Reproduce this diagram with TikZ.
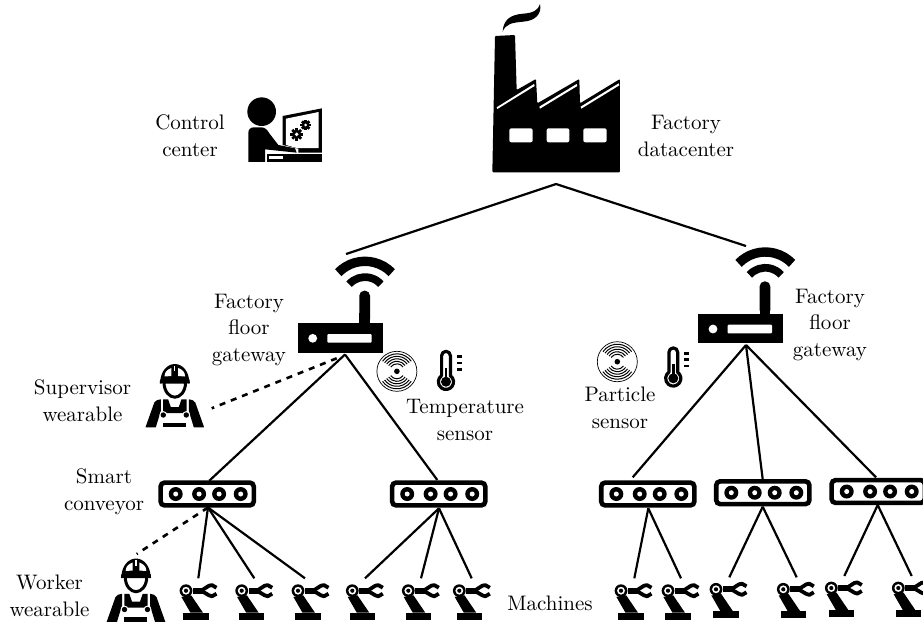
\documentclass[tikz,border=0pt]{standalone}
\usepackage{fontspec}
\setmainfont{lmroman10-regular.otf}
\tikzset{
  x=1pt,y=-1pt,
  lbl/.style={align=center,inner sep=0pt,font=\fontsize{21}{26.6}\selectfont},
  link/.style={line width=2.2pt,black,line cap=butt},
  wire/.style={line width=2.6pt,black,dash pattern=on 6pt off 6pt},
  robot/.pic={
    \fill (0,0) circle (6.4);
    \fill[white] (0,0) circle (3.9);
    \fill (0,0) circle (2.1);
    \fill (7,-3.2) rectangle (17.5,3);
    \fill (-4.6,6.2) -- (5.2,4.6) -- (17,22) -- (4.5,22) -- cycle;
    \fill (-2.6,22) rectangle (22.6,28.8);
    \draw[line width=3.8pt,line join=round] (16,-.5) -- (23,-5) -- (26,-5.6) -- (30.5,-3);
    \draw[line width=3.8pt,line join=round] (16,.5) -- (23,4.6) -- (26,5.6) -- (30.5,3);
  },
  conveyor/.pic={
    \draw[line width=4.6pt,rounded corners=4pt] (-46.6,-11.4) rectangle (46.6,11.4);
    \foreach \u in {-31.5,-8.1,11.9,33.5}{
      \fill (\u,0) circle (7);
      \fill[white] (\u,0) circle (2.5);
    }
  },
  gatewaybox/.pic={
    \fill (0,0) rectangle (84.7,29.4);
    \fill[white] (14.7,15) circle (4.4);
    \fill[white,rounded corners=1pt] (29.3,10.7) rectangle (73.7,19.4);
    \fill[rounded corners=5pt] (61.3,1) -- (61.3,-32.6) -- (72,-32.6) -- (72,1) -- cycle;
    \fill (61.3,-10) rectangle (72,1);
    \draw[line width=9.4pt] (67,-24.8) ++(-136:37.2) arc[start angle=-136,end angle=-44,radius=37.2];
    \draw[line width=7.7pt] (67,-24.8) ++(-138:21.4) arc[start angle=-138,end angle=-42,radius=21.4];
  },
  disc/.pic={
    \draw[line width=.7pt] (0,0) circle (20);
    \fill (0,0) circle (2.8);
    \foreach \r in {7.5,10,12.5,15,17.5}{
      \draw[line width=1pt] (0,0) ++(35:\r) arc[start angle=35,end angle=145,radius=\r];
      \draw[line width=1pt] (0,0) ++(215:\r) arc[start angle=215,end angle=325,radius=\r];
    }
  },
  thermo/.pic={
    \draw[line width=3.2pt,fill=white,line join=round]
      (-4.4,-6) -- (-4.4,-26) arc[start angle=180,end angle=360,radius=4.4] -- (4.4,-6)
      arc[start angle=-54,end angle=234,radius=7.6] -- cycle;
    \fill (0,0) circle (5);
    \fill (-1.4,-14) rectangle (1.4,-2);
    \foreach \v in {-25,-18.6,-12.2}{\fill (11,\v-1.3) rectangle (16,\v+1.3);}
  },
  worker/.pic={
    \fill (-14.4,17.7) arc[start angle=180,end angle=360,x radius=14.4,y radius=17.7]
      -- cycle;
    \fill[white] (-10.3,12.5) .. controls (-10.3,8) and (-7.5,5.5) .. (-3.4,4) -- (-3.4,12) -- cycle;
    \fill[white] (10.3,12.5) .. controls (10.3,8) and (7.5,5.5) .. (3.4,4) -- (3.4,12) -- cycle;
    \fill[white] (-.6,1.5) rectangle (.6,7);
    \draw[line width=3pt,fill=white] (-10.8,18) .. controls (-10.8,28) and (-5,33.2) .. (0,33.2)
      .. controls (5,33.2) and (10.8,28) .. (10.8,18) -- cycle;
    \fill[rounded corners=1pt] (-15.2,20) -- (-14.6,15) .. controls (-6,12.5) and (6,12.5) .. (14.6,15) -- (15.2,20)
      .. controls (6,17.5) and (-6,17.5) .. cycle;
    \fill (-29.3,63.3) -- (-20.5,38.5) .. controls (-19.5,36.5) and (-16.5,35.3) .. (-14,35.3)
      -- (-14,47) -- (-19,63.3) -- cycle;
    \fill (29.3,63.3) -- (20.5,38.5) .. controls (19.5,36.5) and (16.5,35.3) .. (14,35.3)
      -- (14,47) -- (19,63.3) -- cycle;
    \fill (-11.7,35.3) -- (-6.7,35.3) -- (-4,43) -- (4,43) -- (6.7,35.3) -- (11.7,35.3)
      -- (11.7,49) -- (-11.7,49) -- cycle;
    \foreach \s in {-1,1}{
      \fill[white] (\s*11.5,51) circle (3.9);
      \fill (\s*11.5,51) circle (2.7);
    }
    \fill (-11.7,58.7) rectangle (11.3,63.3);
  },
  gearicon/.pic={
    \foreach \a in {0,45,...,315}{
      \fill[rotate=\a] (-1.4,-\gearr-1.6) rectangle (1.4,0);
    }
    \fill (0,0) circle (\gearr);
    \fill[white] (0,0) circle (\gearr*.42);
  },
}
\begin{document}
\begin{tikzpicture}
\useasboundingbox (0,0) rectangle (923,625);
\fill[white] (0,0) rectangle (923,625);

% factory
\begin{scope}[shift={(460,0)},x=.3333pt,y=-.3333pt]
  \fill[rounded corners=1pt] (105,108) -- (165,105) -- (170,270) -- (228,237) -- (232,310) -- (358,237)
     -- (360,310) -- (480,237) -- (480,517) -- (97,517) -- cycle;
  \fill[white] (110,322) -- (222,252) -- (224,258) -- (112,327) -- cycle;
  \fill[white] (238,320) -- (350,252) -- (352,258) -- (240,326) -- cycle;
  \fill[white] (362,320) -- (476,250) -- (478,256) -- (364,326) -- cycle;
  \fill[white,rounded corners=2pt] (148,385) rectangle (218,427);
  \fill[white,rounded corners=2pt] (260,385) rectangle (328,427);
  \fill[white,rounded corners=2pt] (370,385) rectangle (440,427);
  \fill (128,95) .. controls (130,60) and (150,44) .. (190,41)
     .. controls (220,39) and (235,30) .. (240,12)
     .. controls (246,40) and (228,62) .. (190,65)
     .. controls (155,68) and (137,72) .. (128,95) -- cycle;
\end{scope}

% control center
\begin{scope}[shift={(230,90)},x=.3333pt,y=-.3333pt]
  \fill (95,65) circle (43);
  \fill (55,216) -- (55,128) .. controls (55,118) and (62,112) .. (72,112) -- (95,112)
     .. controls (105,112) and (112,120) .. (118,130) -- (145,165)
     -- (195,175) -- (200,188) -- (105,178) -- (105,216) -- cycle;
  \fill (158,78) -- (276,55) -- (276,188) -- (205,188) -- (205,176) -- (158,165) -- cycle;
  \fill[white] (168,86) -- (266,66) -- (266,174) -- (200,174) -- (168,165) -- cycle;
  \fill (112,192) -- (276,192) -- (276,216) -- (112,216) -- cycle;
  \fill[white] (116,199) rectangle (158,207);
  \def\gearr{4.6}
  \path (200,133) pic[x=1pt,y=-1pt] {gearicon};
  \def\gearr{3.6}
  \path (227,105) pic[x=1pt,y=-1pt] {gearicon};
\end{scope}

% icons
\pic at (298,323.3) {gatewaybox};
\pic at (698.3,314) {gatewaybox};
\pic at (396.9,371.3) {disc};
\pic at (617.3,361.7) {disc};
\pic at (446,381.7) {thermo};
\pic at (673.3,378.3) {thermo};
\pic at (174.8,364) {worker};
\pic at (136,558.5) {worker};
\pic at (207.2,494) {conveyor};
\pic at (438.7,494) {conveyor};
\pic at (647.8,494) {conveyor};
\pic at (762.8,492.7) {conveyor};
\pic at (878.2,491.5) {conveyor};
\foreach \px/\py in {186/590.7,241.7/590.7,298/590.7,352.3/590.7,408.3/590.7,459.3/590.7,
   621/590.7,668/590.7,716/589.3,783.3/589.3,831.3/588,898.3/588}{
  \pic at (\px,\py) {robot};
}

% connection points
\coordinate (fac) at (556,184);
\coordinate (gwL) at (346,254);
\coordinate (gwR) at (746,246);
\coordinate (gA) at (345,354.5);
\coordinate (gB) at (746,345);
\coordinate (cAt) at (209.3,480.7);
\coordinate (cBt) at (437.3,480);
\coordinate (cCt) at (632.7,477.3);
\coordinate (cDt) at (762.7,479.3);
\coordinate (cEt) at (876,477.3);
\coordinate (cAb) at (208,507.5);
\coordinate (cBb) at (439,508.3);
\coordinate (cCb) at (648.3,508.3);
\coordinate (cDb) at (762.7,506.7);
\coordinate (cEb) at (877.7,505);
\coordinate (r1) at (198.3,578.3);
\coordinate (r2) at (254.3,578.3);
\coordinate (r3) at (305,578.3);
\coordinate (r4) at (365,578.3);
\coordinate (r5) at (421,578.3);
\coordinate (r6) at (471.7,578.3);
\coordinate (r7) at (634.3,578.3);
\coordinate (r8) at (681,578.3);
\coordinate (r9) at (729.3,577.3);
\coordinate (r10) at (796.7,577.3);
\coordinate (r11) at (844.3,576);
\coordinate (r12) at (911.7,576);
\coordinate (sup) at (211.7,408.3);
\coordinate (wrk) at (136.7,554);
\coordinate (gAd) at (336.7,358.3);

\draw[link,line join=miter] (gwL) -- (fac) -- (gwR);
\draw[link] (gA) -- (cAt);
\draw[link] (gA) -- (cBt);
\draw[link] (gB) -- (cCt);
\draw[link] (gB) -- (cDt);
\draw[link] (gB) -- (cEt);
\foreach \a/\b in {cAb/r1,cAb/r2,cAb/r3,cBb/r4,cBb/r5,cBb/r6,cCb/r7,cCb/r8,cDb/r9,cDb/r10,cEb/r11,cEb/r12}{
  \draw[link] (\a) -- (\b);
}
\draw[wire] (gAd) -- (sup);
\draw[wire] (cAb) -- (wrk);

% labels
\node[lbl] (tControl) at (190,136) {Control\\center};
\node[lbl] (tFactory) at (686,136) {Factory\\datacenter};
\node[lbl] (tGwA) at (249,330) {Factory\\floor\\gateway};
\node[lbl] (tGwB) at (830,325) {Factory\\floor\\gateway};
\node[lbl] (tSup) at (82.5,401) {Supervisor\\wearable};
\node[lbl] (tTemp) at (465,420) {Temperature\\sensor};
\node[lbl] (tPart) at (620,408) {Particle\\sensor};
\node[lbl] (tConv) at (104,492) {Smart\\conveyor};
\node[lbl] (tWork) at (49.5,596) {Worker\\wearable};
\node[lbl] (tMach) at (550,603) {Machines};
\end{tikzpicture}
\end{document}
